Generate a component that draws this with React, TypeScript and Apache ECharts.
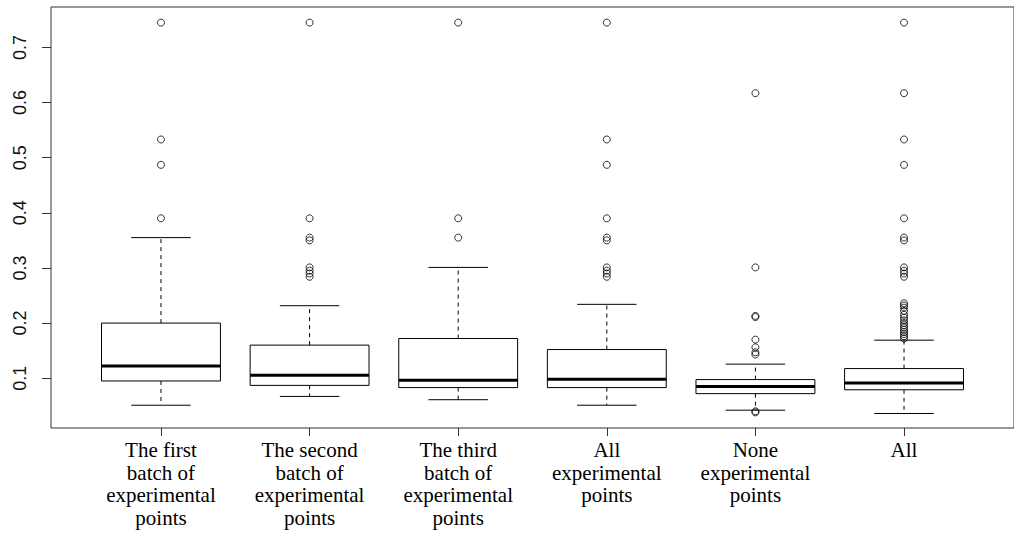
import React, { useEffect, useRef } from "react";
import * as echarts from "echarts";

const categories = [
  "The first\nbatch of\nexperimental\npoints",
  "The second\nbatch of\nexperimental\npoints",
  "The third\nbatch of\nexperimental\npoints",
  "All\nexperimental\npoints",
  "None\nexperimental\npoints",
  "All",
];

const lowerWhisker = [0.051, 0.067, 0.061, 0.051, 0.042, 0.036];
const q1 = [0.095, 0.087, 0.083, 0.083, 0.072, 0.079];
const median = [0.122, 0.1055, 0.0965, 0.098, 0.085, 0.0915];
const q3 = [0.2, 0.16, 0.172, 0.152, 0.0975, 0.1175];
const upperWhisker = [0.355, 0.2315, 0.301, 0.234, 0.1255, 0.169];

const outliers1 = [0.745, 0.533, 0.487, 0.39];
const outliers2 = [0.745, 0.39, 0.355, 0.35, 0.301, 0.295, 0.29, 0.284];
const outliers3 = [0.745, 0.39, 0.355];
const outliers4 = [0.745, 0.533, 0.487, 0.39, 0.355, 0.35, 0.301, 0.295, 0.29, 0.284];
const outliers5 = [0.617, 0.301, 0.213, 0.211, 0.17, 0.156, 0.147, 0.143, 0.04, 0.038];
const outliers6 = [
  0.745, 0.617, 0.533, 0.487, 0.39, 0.355, 0.35, 0.301, 0.295, 0.29, 0.284,
  0.236, 0.232, 0.228, 0.222, 0.215, 0.21, 0.205, 0.2, 0.196, 0.192, 0.188,
  0.184, 0.18, 0.176, 0.172,
];
const outlierGroups = [outliers1, outliers2, outliers3, outliers4, outliers5, outliers6];

const yTicks = [0.1, 0.2, 0.3, 0.4, 0.5, 0.6, 0.7];
const xTicks = [1, 2, 3, 4, 5, 6];

export default function App() {
  const ref = useRef<HTMLDivElement>(null);

  useEffect(() => {
    if (!ref.current) return;
    const chart = echarts.init(ref.current, null, { renderer: "svg" });

    const boxData = categories.map((_, i) => [
      i + 1,
      lowerWhisker[i],
      q1[i],
      median[i],
      q3[i],
      upperWhisker[i],
    ]);
    const outlierData: number[][] = [];
    outlierGroups.forEach((g, i) => g.forEach((v) => outlierData.push([i + 1, v])));

    const renderItem = (params: any, api: any) => {
      const x = api.value(0);
      const lo = api.coord([x, api.value(1)]);
      const pq1 = api.coord([x, api.value(2)]);
      const pmed = api.coord([x, api.value(3)]);
      const pq3 = api.coord([x, api.value(4)]);
      const hi = api.coord([x, api.value(5)]);
      const half = api.size([0.4, 0])[0];
      const cx = lo[0];
      const stroke = "#000";
      return {
        type: "group",
        children: [
          {
            type: "line",
            shape: { x1: cx, y1: pq3[1], x2: cx, y2: hi[1] },
            style: { stroke, lineWidth: 1, lineDash: [4, 4] },
          },
          {
            type: "line",
            shape: { x1: cx, y1: pq1[1], x2: cx, y2: lo[1] },
            style: { stroke, lineWidth: 1, lineDash: [4, 4] },
          },
          {
            type: "line",
            shape: { x1: cx - half / 2, y1: hi[1], x2: cx + half / 2, y2: hi[1] },
            style: { stroke, lineWidth: 1 },
          },
          {
            type: "line",
            shape: { x1: cx - half / 2, y1: lo[1], x2: cx + half / 2, y2: lo[1] },
            style: { stroke, lineWidth: 1 },
          },
          {
            type: "rect",
            shape: { x: cx - half, y: pq3[1], width: 2 * half, height: pq1[1] - pq3[1] },
            style: { fill: "#fff", stroke, lineWidth: 1 },
          },
          {
            type: "line",
            shape: { x1: cx - half, y1: pmed[1], x2: cx + half, y2: pmed[1] },
            style: { stroke, lineWidth: 3 },
          },
        ],
      };
    };

    chart.setOption({
      animation: false,
      backgroundColor: "#fff",
      grid: {
        left: 51,
        top: 7,
        bottom: 112,
        right: -9,
        show: true,
        borderColor: "#333",
        borderWidth: 1,
        backgroundColor: "transparent",
      },
      xAxis: {
        type: "value",
        min: 0.26,
        max: 6.74,
        splitLine: { show: false },
        axisLine: { show: false },
        axisTick: {
          show: true,
          customValues: xTicks,
          length: 8,
          lineStyle: { color: "#333" },
        },
        axisLabel: {
          customValues: xTicks,
          formatter: (v: number) => categories[Math.round(v) - 1] ?? "",
          fontFamily: "Liberation Serif",
          fontSize: 21,
          lineHeight: 22.5,
          color: "#000",
          margin: 11,
        },
      },
      yAxis: {
        type: "value",
        min: 0.0097,
        max: 0.7733,
        splitLine: { show: false },
        axisLine: { show: false },
        axisTick: {
          show: true,
          customValues: yTicks,
          length: 9,
          lineStyle: { color: "#333" },
        },
        axisLabel: {
          customValues: yTicks,
          formatter: (v: number) => v.toFixed(1),
          rotate: 90,
          fontFamily: "Liberation Sans",
          fontSize: 18,
          color: "#111",
          margin: 22,
        },
      },
      series: [
        {
          type: "custom",
          renderItem,
          data: boxData,
          encode: { x: 0, y: [1, 2, 3, 4, 5] },
          z: 2,
        },
        {
          type: "scatter",
          data: outlierData,
          symbol: "circle",
          symbolSize: 7,
          itemStyle: { color: "transparent", borderColor: "#000", borderWidth: 1 },
          z: 3,
        },
      ],
    });

    return () => chart.dispose();
  }, []);

  return (
    <div
      ref={ref}
      style={{ position: "fixed", left: 0, top: 0, width: 1014, height: 540, background: "#fff" }}
    />
  );
}
